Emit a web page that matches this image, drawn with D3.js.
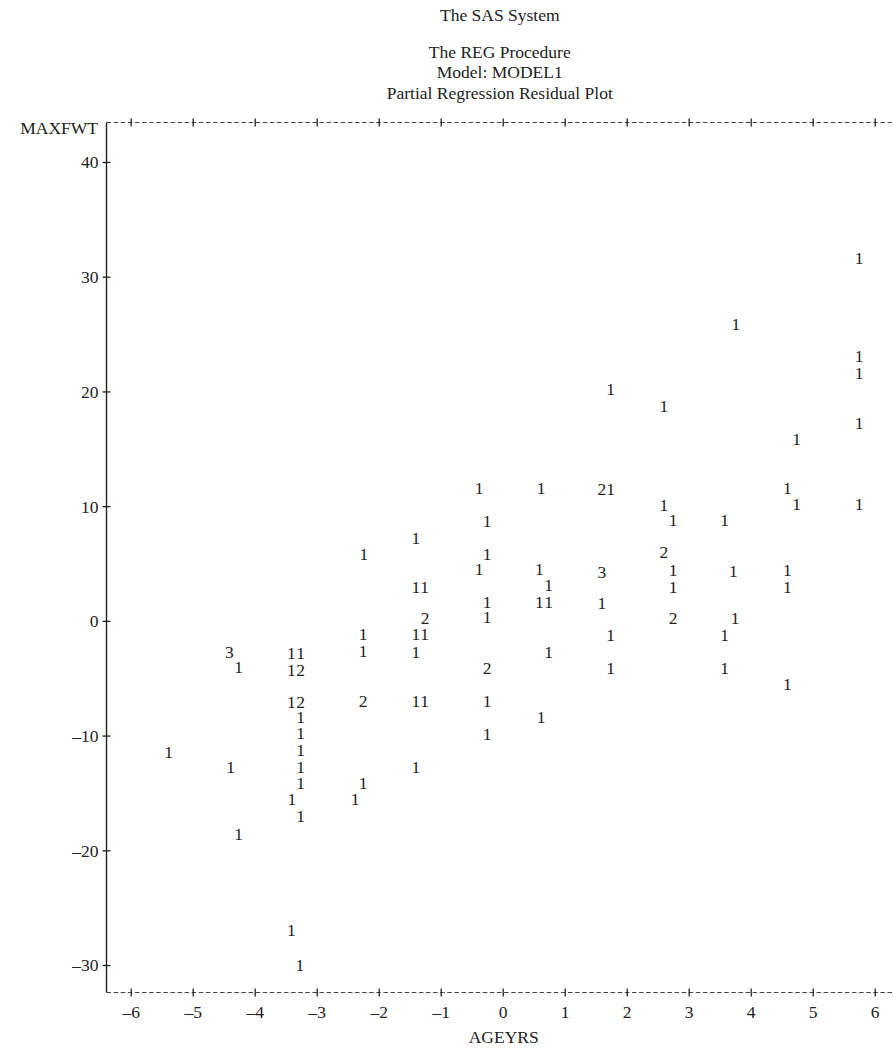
<!DOCTYPE html>
<html>
<head>
<meta charset="utf-8">
<script src="https://cdn.jsdelivr.net/npm/d3@7"></script>
<style>
  html, body { margin: 0; padding: 0; background: #fff; }
  svg text { font-family: "Liberation Serif", "Times New Roman", serif; fill: #222; }
</style>
</head>
<body>
<svg id="chart" width="893" height="1048"></svg>
<script>
// ---- Data ----
const titleLines = ["The SAS System", "The REG Procedure", "Model: MODEL1", "Partial Regression Residual Plot"];
const xLabel = "AGEYRS";
const yLabel = "MAXFWT";
const xTicks = [-6, -5, -4, -3, -2, -1, 0, 1, 2, 3, 4, 5, 6];
const yTicks = [-30, -20, -10, 0, 10, 20, 30, 40];

// each entry is one printer cell: AGEYRS, MAXFWT, number of observations in the cell
const ageyrs = [
  -5.39, -4.41, -4.26, -4.39, -4.26,
  -3.41, -3.26, -3.41, -3.26, -3.41, -3.26, -3.26, -3.26, -3.26, -3.26, -3.26, -3.40, -3.26, -3.41, -3.27,
  -2.24, -2.25, -2.25, -2.25, -2.25, -2.38,
  -1.40, -1.40, -1.26, -1.25, -1.40, -1.26, -1.40, -1.40, -1.26, -1.40,
  -0.38, -0.25, -0.25, -0.38, -0.25, -0.25, -0.25, -0.25, -0.25,
  0.62, 0.59, 0.74, 0.59, 0.74, 0.74, 0.62,
  1.74, 1.60, 1.74, 1.60, 1.60, 1.74, 1.74,
  2.60, 2.60, 2.75, 2.60, 2.75, 2.75, 2.75,
  3.76, 3.58, 3.72, 3.75, 3.58, 3.58,
  4.74, 4.59, 4.74, 4.59, 4.59, 4.59,
  5.75, 5.75, 5.75, 5.75, 5.75
];
const maxfwt = [
  -11.40, -2.69, -4.05, -12.76, -18.58,
  -2.82, -2.82, -4.28, -4.28, -7.04, -7.04, -8.35, -9.80, -11.26, -12.71, -14.11, -15.55, -17.01, -26.95, -30.00,
  5.81, -1.14, -2.60, -7.00, -14.11, -15.55,
  7.25, 2.98, 2.98, 0.23, -1.14, -1.14, -2.76, -6.96, -6.96, -12.74,
  11.56, 8.71, 5.81, 4.50, 1.67, 0.34, -4.13, -6.96, -9.86,
  11.56, 4.50, 3.13, 1.67, 1.67, -2.69, -8.40,
  20.19, 11.47, 11.47, 4.29, 1.59, -1.23, -4.13,
  18.74, 10.10, 8.80, 5.98, 4.44, 2.98, 0.23,
  25.88, 8.80, 4.38, 0.23, -1.23, -4.13,
  15.83, 11.56, 10.19, 4.44, 2.98, -5.50,
  31.61, 23.10, 21.64, 17.25, 10.19
];
const counts = [
  1, 3, 1, 1, 1,
  1, 1, 1, 2, 1, 2, 1, 1, 1, 1, 1, 1, 1, 1, 1,
  1, 1, 1, 2, 1, 1,
  1, 1, 1, 2, 1, 1, 1, 1, 1, 1,
  1, 1, 1, 1, 1, 1, 2, 1, 1,
  1, 1, 1, 1, 1, 1, 1,
  1, 2, 1, 3, 1, 1, 1,
  1, 1, 1, 2, 1, 1, 2,
  1, 1, 1, 1, 1, 1,
  1, 1, 1, 1, 1, 1,
  1, 1, 1, 1, 1
];

// ---- Layout ----
const frame = { left: 106.5, top: 122.5, right: 893, bottom: 992.5 };
const fontSize = 17.5;

const svg = d3.select("#chart");

const x = d3.scaleLinear().domain([-6, 6]).range([130.7, 874.7]);
const y = d3.scaleLinear().domain([-30, 40]).range([965, 162]);

const fmt = v => (v < 0 ? "\u2013" + Math.abs(v) : String(v));

// Titles
const titleY = [15, 52, 72, 93];
svg.selectAll("text.title")
  .data(titleLines)
  .join("text")
  .attr("class", "title")
  .attr("x", (frame.left + frame.right) / 2)
  .attr("y", (d, i) => titleY[i])
  .attr("dy", "0.34em")
  .attr("text-anchor", "middle")
  .attr("font-size", 17.5)
  .text(d => d);

// Dashed top and bottom lines
[frame.top, frame.bottom].forEach(yy => {
  svg.append("line")
    .attr("x1", frame.left).attr("x2", frame.right)
    .attr("y1", yy).attr("y2", yy)
    .attr("stroke", "#444").attr("stroke-width", 1.1)
    .attr("stroke-dasharray", "4.5,2.6");
});

// Solid left line
svg.append("line")
  .attr("x1", frame.left).attr("x2", frame.left)
  .attr("y1", frame.top).attr("y2", frame.bottom)
  .attr("stroke", "#222").attr("stroke-width", 1.4);

// Bottom axis
const gx = svg.append("g")
  .attr("transform", `translate(0,${frame.bottom})`)
  .call(d3.axisBottom(x).tickValues(xTicks).tickFormat(fmt).tickSize(4).tickSizeOuter(0));
gx.select(".domain").remove();
gx.selectAll(".tick line").attr("y1", -4).attr("stroke", "#222").attr("stroke-width", 1.3);
gx.selectAll(".tick text")
  .attr("y", 19.5).attr("dy", "0.34em")
  .attr("font-size", fontSize).attr("font-family", null).attr("fill", null);

// Top axis (ticks only)
const gt = svg.append("g")
  .attr("transform", `translate(0,${frame.top})`)
  .call(d3.axisTop(x).tickValues(xTicks).tickFormat("").tickSize(4).tickSizeOuter(0));
gt.select(".domain").remove();
gt.selectAll(".tick line").attr("y1", 4).attr("stroke", "#222").attr("stroke-width", 1.3);

// Left axis
const gy = svg.append("g")
  .attr("transform", `translate(${frame.left},0)`)
  .call(d3.axisLeft(y).tickValues(yTicks).tickFormat(fmt).tickSize(4).tickSizeOuter(0));
gy.select(".domain").remove();
gy.selectAll(".tick line").attr("x1", 4).attr("stroke", "#222").attr("stroke-width", 1.3);
gy.selectAll(".tick text")
  .attr("x", -8).attr("dy", "0.34em")
  .attr("font-size", fontSize).attr("font-family", null).attr("fill", null);

// Axis labels
svg.append("text")
  .attr("x", 98).attr("y", 128).attr("dy", "0.34em")
  .attr("text-anchor", "end").attr("font-size", fontSize)
  .text(yLabel);
svg.append("text")
  .attr("x", (frame.left + frame.right) / 2 + 4).attr("y", 1037).attr("dy", "0.34em")
  .attr("text-anchor", "middle").attr("font-size", fontSize)
  .text(xLabel);

// Plot symbols (cell counts)
const cells = ageyrs.map((a, i) => ({ a, m: maxfwt[i], c: counts[i] }));
svg.append("g").selectAll("text")
  .data(cells)
  .join("text")
  .attr("x", d => x(d.a))
  .attr("y", d => y(d.m))
  .attr("dy", "0.34em")
  .attr("text-anchor", "middle")
  .attr("font-size", fontSize)
  .text(d => d.c);
</script>
</body>
</html>
